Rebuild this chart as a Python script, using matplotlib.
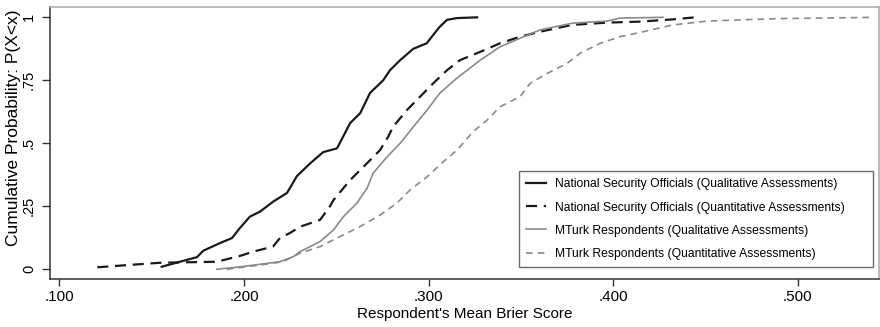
import matplotlib
matplotlib.use("Agg")
import matplotlib.pyplot as plt

plt.rcParams['font.family'] = ['Liberation Sans', 'DejaVu Sans']

# valeurs (fonctions de répartition empiriques)
nso_qual_x = [.1554, .1653, .1745, .178, .187, .1935, .1978, .2032, .2087, .2157, .2233, .2287,
              .2358, .2429, .2504, .2575, .263, .2683, .2754, .2791, .2846, .2917, .299, .3025,
              .306, .310, .3154, .3263]
nso_qual_y = [.01, .03, .048, .074, .104, .124, .164, .209, .229, .268, .303, .37,
              .42, .465, .48, .58, .62, .70, .75, .79, .83, .875, .897, .93,
              .962, .99, .997, 1.0]

nso_quant_x = [.1205, .1545, .1853, .1978, .2049, .2157, .2195, .2249, .2304, .2412, .2466, .2485,
               .2575, .2683, .2737, .2781, .2808, .2883, .2954, .3025, .310, .317, .328, .3387,
               .3496, .3604, .378, .3966, .4146, .4325, .4445]
nso_quant_y = [.008, .026, .03, .053, .07, .09, .124, .144, .169, .196, .25, .275,
               .354, .433, .473, .526, .566, .632, .685, .738, .79, .83, .863, .897,
               .923, .943, .97, .979, .983, .992, 1.0]

mturk_qual_x = [.1853, .198, .2087, .2195, .2267, .2304, .2412, .2485, .2539, .2612, .2667, .270,
                .2775, .2846, .2917, .2992, .3062, .3154, .328, .3387, .3496, .3604, .378, .3966,
                .4038, .427]
mturk_qual_y = [0, .01, .02, .03, .05, .07, .11, .156, .209, .263, .322, .382,
                .446, .50, .565, .632, .70, .759, .83, .883, .917, .95, .977, .985,
                .997, 1.0]

mturk_quant_x = [.1907, .2087, .2211, .2304, .2412, .252, .263, .2737, .2829, .290, .2992, .308,
                 .3154, .3241, .3317, .3387, .3496, .355, .3642, .375, .382, .393, .4038, .4146,
                 .4325, .451, .469, .490, .523, .541]
mturk_quant_y = [0, .017, .03, .064, .09, .13, .17, .215, .263, .315, .367, .427,
                 .473, .546, .592, .645, .685, .738, .777, .817, .857, .897, .923, .94,
                 .97, .985, .99, .995, .998, 1.0]

labels = ["National Security Officials (Qualitative Assessments)",
          "National Security Officials (Quantitative Assessments)",
          "MTurk Respondents (Qualitative Assessments)",
          "MTurk Respondents (Quantitative Assessments)"]

x_ticks = [.1, .2, .3, .4, .5]
x_tick_labels = [".100", ".200", ".300", ".400", ".500"]
y_ticks = [0, .25, .5, .75, 1]
y_tick_labels = ["0", ".25", ".5", ".75", "1"]

fig = plt.figure(figsize=(8.8, 3.27), dpi=100)
ax = fig.add_axes([0.0568, 0.1468, 0.942, 0.8318])

ax.plot(nso_qual_x, nso_qual_y, color='#1a1a1a', lw=1.6, label=labels[0])
ax.plot(nso_quant_x, nso_quant_y, color='#1a1a1a', lw=1.6, dashes=(5, 3), label=labels[1])
ax.plot(mturk_qual_x, mturk_qual_y, color='#8a8a8a', lw=1.2, label=labels[2])
ax.plot(mturk_quant_x, mturk_quant_y, color='#8a8a8a', lw=1.2, dashes=(4, 3), label=labels[3])

ax.set_xlim(0.0949, 0.544)
ax.set_ylim(-0.0385, 1.041)

ax.set_xticks(x_ticks)
ax.set_xticklabels(x_tick_labels)
ax.set_yticks(y_ticks)
ax.set_yticklabels(y_tick_labels, rotation=90, va='center')
ax.tick_params(axis='x', length=5, width=1, color='#333333', labelsize=11, pad=3)
ax.tick_params(axis='y', length=6, width=1, color='#333333', labelsize=10.5, pad=4)

for s in ['left', 'bottom']:
    ax.spines[s].set_color('#333333')
    ax.spines[s].set_linewidth(1.1)
for s in ['top', 'right']:
    ax.spines[s].set_color('#a8a8a8')
    ax.spines[s].set_linewidth(1.1)

ax.set_xlabel("Respondent's Mean Brier Score", fontsize=11, labelpad=2)
ax.set_ylabel("Cumulative Probability: P(X<x)", fontsize=12.5)
ax.yaxis.set_label_coords(-0.035, 0.555)

# légende étirée sur la largeur du cadre d'origine
leg = ax.legend(loc='lower left', bbox_to_anchor=(0.5657, 0.044, 0.427, 0.353), mode='expand',
                borderaxespad=0, fontsize=8.7, frameon=True, fancybox=False, handlelength=1.65,
                handletextpad=0.75, labelspacing=0.92, borderpad=0.6)
leg.get_frame().set_edgecolor('#444444')
leg.get_frame().set_linewidth(1.0)

fig.savefig("out.png", dpi=100)
